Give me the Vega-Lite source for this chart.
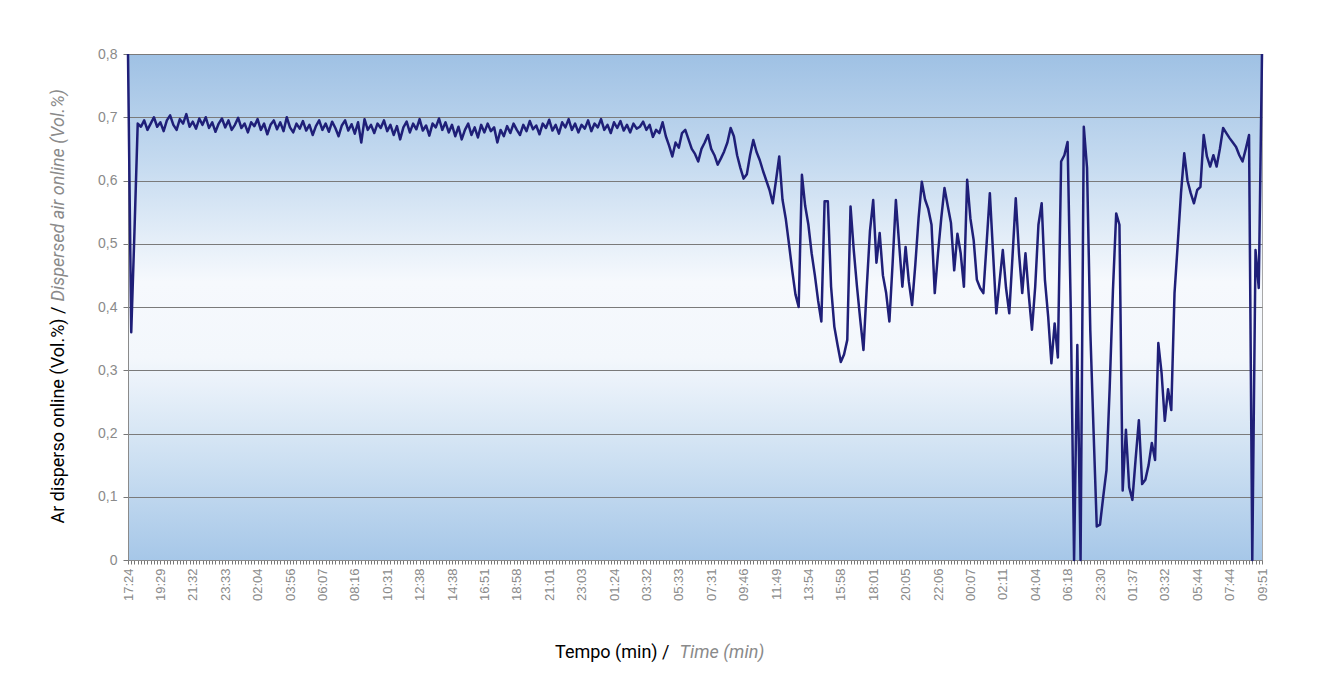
{
  "$schema": "https://vega.github.io/schema/vega-lite/v6.json",
  "width": 1134,
  "height": 506,
  "autosize": {"type": "none"},
  "padding": {"left": 128, "top": 54, "right": 57, "bottom": 122},
  "background": "white",
  "config": {
    "view": {
      "stroke": "#a8a8a8",
      "strokeWidth": 1,
      "fill": {"gradient": "linear", "x1": 0, "y1": 0, "x2": 0, "y2": 1,
        "stops": [
          {"offset": 0, "color": "#9fc1e4"},
          {"offset": 0.22, "color": "#c6dbf0"},
          {"offset": 0.45, "color": "#f6f9fd"},
          {"offset": 0.6, "color": "#f3f7fc"},
          {"offset": 0.8, "color": "#cde0f2"},
          {"offset": 1, "color": "#a6c7e8"}
        ]}
    }
  },
  "resolve": {"axis": {"x": "independent", "y": "independent"}},
  "layer": [
    {
      "data": {"values": []},
      "mark": {"type": "point", "opacity": 0},
      "encoding": {
        "x": {"field": "i", "type": "quantitative",
          "scale": {"domain": [0, 350], "nice": false, "zero": false},
          "axis": {"orient": "bottom", "labels": false, "ticks": false, "domain": false, "grid": false,
            "title": "Time (min)", "titleFont": "Roboto", "titleFontSize": 18, "titleFontWeight": "normal",
            "titleFontStyle": "italic", "titleColor": "#8a8a8a", "titleAlign": "left", "titleAngle": 0,
            "titleX": 551, "titleY": 92, "titleBaseline": "middle"}},
        "y": {"field": "v", "type": "quantitative",
          "scale": {"domain": [0, 0.8], "nice": false, "zero": false},
          "axis": {"orient": "left", "labels": false, "ticks": false, "domain": false, "grid": false,
            "title": "Dispersed air online (Vol.%)", "titleFont": "Roboto", "titleFontSize": 18, "titleFontWeight": "normal",
            "titleFontStyle": "italic", "titleColor": "#8a8a8a", "titleAlign": "left", "titleAngle": 270,
            "titleX": -70, "titleY": 247, "titleBaseline": "middle"}}
      }
    },
    {
      "data": {"values": [
        {"i":0,"v":0.80},{"i":1,"v":0.36},{"i":2,"v":0.52},{"i":3,"v":0.69},
        {"i":4,"v":0.685},{"i":5,"v":0.695},{"i":6,"v":0.680},{"i":7,"v":0.690},{"i":8,"v":0.700},{"i":9,"v":0.685},{"i":10,"v":0.692},{"i":11,"v":0.678},{"i":12,"v":0.695},{"i":13,"v":0.703},{"i":14,"v":0.688},{"i":15,"v":0.680},{"i":16,"v":0.697},{"i":17,"v":0.690},{"i":18,"v":0.705},{"i":19,"v":0.685},{"i":20,"v":0.693},
        {"i":21,"v":0.682},{"i":22,"v":0.698},{"i":23,"v":0.688},{"i":24,"v":0.700},{"i":25,"v":0.683},{"i":26,"v":0.692},{"i":27,"v":0.677},{"i":28,"v":0.690},{"i":29,"v":0.698},{"i":30,"v":0.684},{"i":31,"v":0.695},{"i":32,"v":0.680},{"i":33,"v":0.688},{"i":34,"v":0.699},{"i":35,"v":0.683},{"i":36,"v":0.690},{"i":37,"v":0.676},{"i":38,"v":0.692},{"i":39,"v":0.686},{"i":40,"v":0.697},
        {"i":41,"v":0.680},{"i":42,"v":0.690},{"i":43,"v":0.673},{"i":44,"v":0.688},{"i":45,"v":0.695},{"i":46,"v":0.681},{"i":47,"v":0.692},{"i":48,"v":0.678},{"i":49,"v":0.700},{"i":50,"v":0.684},{"i":51,"v":0.676},{"i":52,"v":0.690},{"i":53,"v":0.682},{"i":54,"v":0.694},{"i":55,"v":0.679},{"i":56,"v":0.688},{"i":57,"v":0.672},{"i":58,"v":0.686},{"i":59,"v":0.695},{"i":60,"v":0.680},
        {"i":61,"v":0.690},{"i":62,"v":0.677},{"i":63,"v":0.693},{"i":64,"v":0.683},{"i":65,"v":0.670},{"i":66,"v":0.687},{"i":67,"v":0.695},{"i":68,"v":0.679},{"i":69,"v":0.689},{"i":70,"v":0.674},{"i":71,"v":0.692},{"i":72,"v":0.660},{"i":73,"v":0.697},{"i":74,"v":0.680},{"i":75,"v":0.688},{"i":76,"v":0.675},{"i":77,"v":0.690},{"i":78,"v":0.683},{"i":79,"v":0.695},{"i":80,"v":0.678},
        {"i":81,"v":0.688},{"i":82,"v":0.672},{"i":83,"v":0.686},{"i":84,"v":0.665},{"i":85,"v":0.684},{"i":86,"v":0.693},{"i":87,"v":0.676},{"i":88,"v":0.690},{"i":89,"v":0.681},{"i":90,"v":0.697},{"i":91,"v":0.679},{"i":92,"v":0.687},{"i":93,"v":0.671},{"i":94,"v":0.690},{"i":95,"v":0.684},{"i":96,"v":0.698},{"i":97,"v":0.680},{"i":98,"v":0.692},{"i":99,"v":0.676},{"i":100,"v":0.688},
        {"i":101,"v":0.670},{"i":102,"v":0.685},{"i":103,"v":0.665},{"i":104,"v":0.680},{"i":105,"v":0.690},{"i":106,"v":0.672},{"i":107,"v":0.684},{"i":108,"v":0.668},{"i":109,"v":0.688},{"i":110,"v":0.676},{"i":111,"v":0.690},{"i":112,"v":0.678},{"i":113,"v":0.684},{"i":114,"v":0.660},{"i":115,"v":0.680},{"i":116,"v":0.670},{"i":117,"v":0.686},{"i":118,"v":0.675},{"i":119,"v":0.690},{"i":120,"v":0.680},
        {"i":121,"v":0.672},{"i":122,"v":0.688},{"i":123,"v":0.678},{"i":124,"v":0.694},{"i":125,"v":0.681},{"i":126,"v":0.687},{"i":127,"v":0.673},{"i":128,"v":0.690},{"i":129,"v":0.683},{"i":130,"v":0.696},{"i":131,"v":0.679},{"i":132,"v":0.688},{"i":133,"v":0.674},{"i":134,"v":0.692},{"i":135,"v":0.684},{"i":136,"v":0.697},{"i":137,"v":0.680},{"i":138,"v":0.690},{"i":139,"v":0.676},{"i":140,"v":0.688},
        {"i":141,"v":0.682},{"i":142,"v":0.695},{"i":143,"v":0.678},{"i":144,"v":0.690},{"i":145,"v":0.684},{"i":146,"v":0.697},{"i":147,"v":0.680},{"i":148,"v":0.688},{"i":149,"v":0.675},{"i":150,"v":0.692},{"i":151,"v":0.683},{"i":152,"v":0.694},{"i":153,"v":0.679},{"i":154,"v":0.688},{"i":155,"v":0.676},{"i":156,"v":0.690},{"i":157,"v":0.682},
        {"i":158,"v":0.685},{"i":159,"v":0.693},{"i":160,"v":0.680},{"i":161,"v":0.688},{"i":162,"v":0.669},{"i":163,"v":0.680},{"i":164,"v":0.675},{"i":165,"v":0.692},{"i":166,"v":0.670},{"i":167,"v":0.655},{"i":168,"v":0.638},{"i":169,"v":0.660},{"i":170,"v":0.652},{"i":171,"v":0.675},{"i":172,"v":0.680},{"i":173,"v":0.665},{"i":174,"v":0.650},{"i":175,"v":0.642},{"i":176,"v":0.630},{"i":177,"v":0.650},
        {"i":178,"v":0.660},{"i":179,"v":0.672},{"i":180,"v":0.650},{"i":181,"v":0.640},{"i":182,"v":0.625},{"i":183,"v":0.635},{"i":184,"v":0.646},{"i":185,"v":0.660},{"i":186,"v":0.683},{"i":187,"v":0.670},{"i":188,"v":0.640},{"i":189,"v":0.620},{"i":190,"v":0.603},{"i":191,"v":0.610},{"i":192,"v":0.640},{"i":193,"v":0.664},{"i":194,"v":0.645},{"i":195,"v":0.632},{"i":196,"v":0.615},{"i":197,"v":0.600},
        {"i":198,"v":0.585},{"i":199,"v":0.564},{"i":200,"v":0.600},{"i":201,"v":0.638},{"i":202,"v":0.570},{"i":203,"v":0.540},{"i":204,"v":0.500},{"i":205,"v":0.458},{"i":206,"v":0.420},{"i":207,"v":0.400},{"i":208,"v":0.609},{"i":209,"v":0.560},{"i":210,"v":0.530},{"i":211,"v":0.485},{"i":212,"v":0.450},{"i":213,"v":0.410},{"i":214,"v":0.377},{"i":215,"v":0.567},{"i":216,"v":0.567},{"i":217,"v":0.432},
        {"i":218,"v":0.369},{"i":219,"v":0.340},{"i":220,"v":0.313},{"i":221,"v":0.325},{"i":222,"v":0.348},{"i":223,"v":0.559},{"i":224,"v":0.490},{"i":225,"v":0.432},{"i":226,"v":0.380},{"i":227,"v":0.332},{"i":228,"v":0.430},{"i":229,"v":0.520},{"i":230,"v":0.569},{"i":231,"v":0.470},{"i":232,"v":0.517},{"i":233,"v":0.450},{"i":234,"v":0.422},{"i":235,"v":0.377},{"i":236,"v":0.470},{"i":237,"v":0.569},
        {"i":238,"v":0.500},{"i":239,"v":0.432},{"i":240,"v":0.495},{"i":241,"v":0.440},{"i":242,"v":0.403},{"i":243,"v":0.467},{"i":244,"v":0.540},{"i":245,"v":0.598},{"i":246,"v":0.570},{"i":247,"v":0.555},{"i":248,"v":0.530},{"i":249,"v":0.422},{"i":250,"v":0.485},{"i":251,"v":0.540},{"i":252,"v":0.588},{"i":253,"v":0.560},{"i":254,"v":0.533},{"i":255,"v":0.458},{"i":256,"v":0.516},{"i":257,"v":0.485},
        {"i":258,"v":0.432},{"i":259,"v":0.601},{"i":260,"v":0.540},{"i":261,"v":0.506},{"i":262,"v":0.443},{"i":263,"v":0.430},{"i":264,"v":0.422},{"i":265,"v":0.500},{"i":266,"v":0.580},{"i":267,"v":0.485},{"i":268,"v":0.390},{"i":269,"v":0.440},{"i":270,"v":0.490},{"i":271,"v":0.430},{"i":272,"v":0.390},{"i":273,"v":0.480},{"i":274,"v":0.572},{"i":275,"v":0.485},{"i":276,"v":0.422},{"i":277,"v":0.485},
        {"i":278,"v":0.420},{"i":279,"v":0.364},{"i":280,"v":0.432},{"i":281,"v":0.530},{"i":282,"v":0.564},{"i":283,"v":0.443},{"i":284,"v":0.385},{"i":285,"v":0.311},{"i":286,"v":0.374},{"i":287,"v":0.320},{"i":288,"v":0.630},{"i":289,"v":0.640},{"i":290,"v":0.661},{"i":291,"v":0.390},{"i":292,"v":0.000},{"i":293,"v":0.340},{"i":294,"v":0.000},{"i":295,"v":0.685},{"i":296,"v":0.620},{"i":297,"v":0.364},
        {"i":298,"v":0.206},{"i":299,"v":0.053},{"i":300,"v":0.056},{"i":301,"v":0.100},{"i":302,"v":0.142},{"i":303,"v":0.274},{"i":304,"v":0.427},{"i":305,"v":0.548},{"i":306,"v":0.530},{"i":307,"v":0.110},{"i":308,"v":0.206},{"i":309,"v":0.115},{"i":310,"v":0.095},{"i":311,"v":0.160},{"i":312,"v":0.221},{"i":313,"v":0.120},{"i":314,"v":0.127},{"i":315,"v":0.150},{"i":316,"v":0.185},{"i":317,"v":0.158},
        {"i":318,"v":0.343},{"i":319,"v":0.296},{"i":320,"v":0.220},{"i":321,"v":0.270},{"i":322,"v":0.237},{"i":323,"v":0.422},{"i":324,"v":0.500},{"i":325,"v":0.580},{"i":326,"v":0.643},{"i":327,"v":0.600},{"i":328,"v":0.580},{"i":329,"v":0.564},{"i":330,"v":0.585},{"i":331,"v":0.590},{"i":332,"v":0.672},{"i":333,"v":0.638},{"i":334,"v":0.622},{"i":335,"v":0.640},{"i":336,"v":0.622},{"i":337,"v":0.650},
        {"i":338,"v":0.683},{"i":339,"v":0.675},{"i":340,"v":0.667},{"i":341,"v":0.660},{"i":342,"v":0.653},{"i":343,"v":0.640},{"i":344,"v":0.630},{"i":345,"v":0.650},{"i":346,"v":0.672},{"i":347,"v":0.000},{"i":348,"v":0.490},{"i":349,"v":0.430},{"i":350,"v":0.800}
      ]},
      "mark": {"type": "line", "color": "#1f1f78", "strokeWidth": 2.5, "strokeJoin": "round"},
      "encoding": {
        "x": {"field": "i", "type": "quantitative",
          "scale": {"domain": [0, 350], "nice": false, "zero": false},
          "axis": {"orient": "bottom", "tickCount": 350,
            "labelExpr": "datum.value % 10 == 0 ? ['17:24','19:29','21:32','23:33','02:04','03:56','06:07','08:16','10:31','12:38','14:38','16:51','18:58','21:01','23:03','01:24','03:32','05:33','07:31','09:46','11:49','13:54','15:58','18:01','20:05','22:06','00:07','02:11','04:04','06:18','23:30','01:37','03:32','05:44','07:44','09:51'][datum.value / 10] : ''",
            "labelAngle": -90, "labelOverlap": false, "labelFlush": false, "labelBound": false,
            "labelFont": "Liberation Sans", "labelFontSize": 13, "labelColor": "#8a8a8a", "labelPadding": 4,
            "tickColor": "#777777", "tickSize": 4, "domainColor": "#8a8a8a", "grid": false,
            "title": "Tempo (min) /", "titleFont": "Roboto", "titleFontSize": 18, "titleFontWeight": "normal",
            "titleColor": "#000000", "titleAlign": "right", "titleAngle": 0, "titleX": 541, "titleY": 92, "titleBaseline": "middle"}},
        "y": {"field": "v", "type": "quantitative",
          "scale": {"domain": [0, 0.8], "nice": false, "zero": false},
          "axis": {"orient": "left", "values": [0, 0.1, 0.2, 0.3, 0.4, 0.5, 0.6, 0.7, 0.8],
            "labelExpr": "datum.value == 0 ? '0' : replace(format(datum.value, '.1f'), '.', ',')",
            "labelFont": "Liberation Sans", "labelFontSize": 14, "labelColor": "#8a8a8a", "labelPadding": 6,
            "tickColor": "#777777", "tickSize": 5, "domainColor": "#8a8a8a",
            "grid": true, "gridColor": "#7a7a7a", "gridWidth": 1,
            "title": "Ar disperso online (Vol.%) /", "titleFont": "Roboto", "titleFontSize": 18, "titleFontWeight": "normal",
            "titleColor": "#000000", "titleAlign": "right", "titleAngle": 270, "titleX": -70, "titleY": 252, "titleBaseline": "middle"}}
      }
    }
  ]
}
